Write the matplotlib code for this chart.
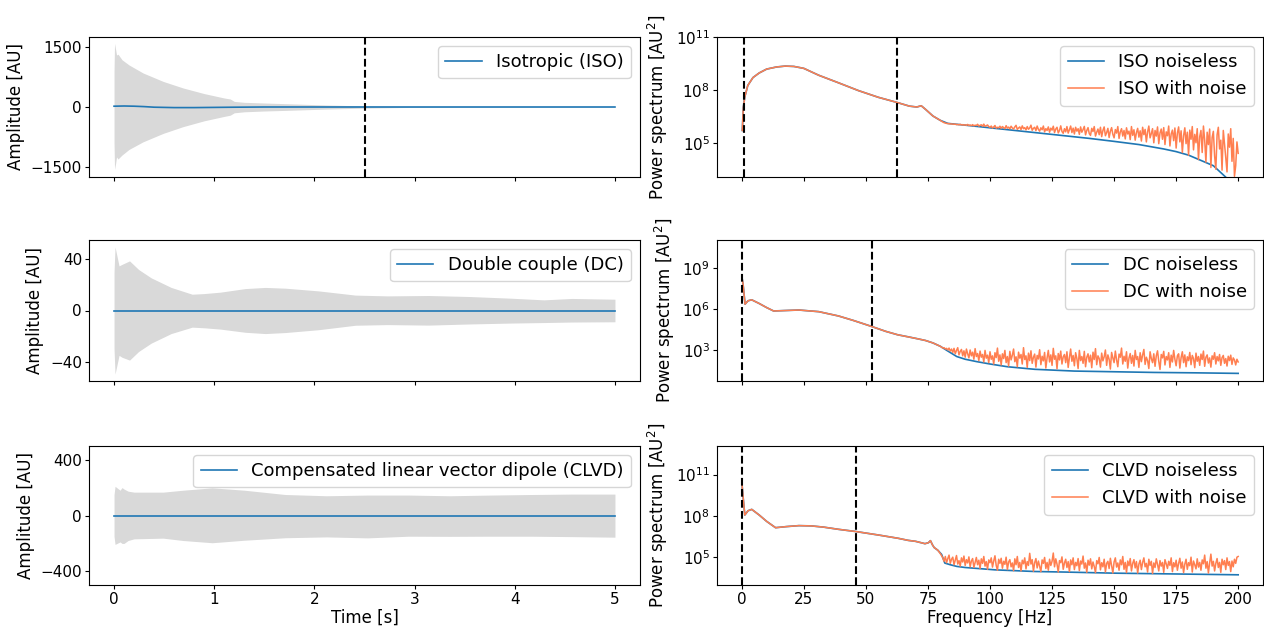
import numpy as np
import matplotlib
matplotlib.use("Agg")
import matplotlib.pyplot as plt
from matplotlib.ticker import FixedLocator, NullLocator, LogFormatterMathtext

# ---- time domain: envelope of the noisy trace (grey) and the clean trace (blue)
iso_t = [0.0, 0.005, 0.015, 0.025, 0.04, 0.08, 0.15, 0.29, 0.49, 0.69, 0.9, 1.1, 1.16, 1.2,
         1.3, 1.5, 1.71, 2.12, 2.53, 2.94, 3.5, 4.0, 5.0]
iso_upper = [900, 1590, 1450, 1300, 1320, 1180, 1050, 850, 640, 475, 335, 225, 200, 140,
             117, 100, 83, 50, 25, 10, 6, 5, 4]
iso_lower = [-900, -1560, -1420, -1250, -1300, -1200, -1060, -870, -660, -490, -345, -235, -205, -145,
             -120, -100, -85, -52, -26, -11, -6, -5, -4]
iso_clean_t = [0, 0.1, 0.2, 0.3, 0.4, 0.6, 0.8, 1.0, 1.2, 1.5, 2, 3, 4, 5]
iso_clean = [20, 25, 20, 10, -5, -15, -15, -10, -5, 0, 0, 0, 0, 0]

dc_t = [0.0, 0.01, 0.05, 0.08, 0.155, 0.245, 0.37, 0.57, 0.78, 0.9, 1.06, 1.31, 1.51, 1.71,
        2.04, 2.41, 2.73, 3.14, 3.55, 3.96, 4.29, 4.57, 5.0]
dc_upper = [30, 49.6, 34.8, 36, 38.7, 32, 25.5, 18, 12.7, 13.2, 14.3, 17.1, 18, 17.4,
            15.3, 12, 11.4, 11.7, 10.9, 9.6, 8.3, 9.4, 8.8]
dc_lower = [-30, -49.6, -35, -36.5, -38.7, -32, -25.5, -18, -13, -13.5, -14.5, -17, -18, -17.2,
            -15, -11.5, -11, -11.4, -10.5, -9.8, -9.4, -9.0, -8.8]
dc_clean_t = [0, 1, 2, 3, 4, 5]
dc_clean = [0, 0, 0, 0, 0, 0]

clvd_t = [0.0, 0.01, 0.06, 0.08, 0.1, 0.14, 0.2, 0.49, 0.69, 0.98, 1.3, 1.71, 2.12, 2.53,
          2.94, 3.35, 3.76, 4.16, 4.57, 5.0]
clvd_upper = [150, 210, 182, 201, 190, 175, 168, 168, 182, 199, 182, 151, 142, 147,
              147, 142, 147, 151, 154, 154]
clvd_lower = [-150, -208, -190, -201, -201, -180, -168, -163, -180, -196, -178, -160, -154, -161,
              -149, -150, -149, -149, -152, -156]
clvd_clean_t = [0, 1, 2, 3, 4, 5]
clvd_clean = [0, 0, 0, 0, 0, 0]

# ---- power spectra, log10 values
iso_f = [0.2, 0.6, 1.2, 2.4, 4.5, 7, 10, 14, 17.5, 21, 25, 31, 39, 47, 55, 62.5, 67.5, 70.5,
         72.3, 74, 77, 80, 83, 90, 100, 110, 120, 130, 140, 150, 160, 170, 175, 180, 185, 190,
         195, 200]
iso_log = [5.7, 7.0, 7.6, 8.25, 8.7, 8.96, 9.18, 9.3, 9.35, 9.33, 9.22, 8.83, 8.4, 7.96, 7.58,
           7.29, 7.08, 7.03, 7.1, 6.9, 6.52, 6.27, 6.1, 6.0, 5.85, 5.7, 5.55, 5.4, 5.25, 5.08,
           4.9, 4.65, 4.5, 4.3, 4.0, 3.7, 3.05, 2.3]
# noisy part, 80 Hz to 200 Hz every 0.5 Hz
iso_noisy_log = [
    6.27, 6.22, 6.18, 6.14, 6.12, 6.10, 6.09, 6.08, 6.07, 6.07,
    6.06, 6.05, 6.06, 6.03, 6.04, 6.02, 6.05, 6.01, 6.03, 6.00,
    6.02, 5.99, 6.04, 5.98, 6.01, 5.97, 6.03, 5.96, 6.00, 5.98,
    6.05, 5.95, 5.99, 6.02, 5.94, 6.06, 5.93, 5.97, 6.01, 5.92,
    5.88, 5.95, 5.84, 5.90, 5.98, 5.83, 5.88, 5.85, 5.94, 5.82,
    5.92, 5.86, 5.80, 5.97, 5.83, 5.89, 5.79, 5.94, 5.84, 5.78,
    5.90, 5.99, 5.76, 5.84, 5.90, 5.75, 5.96, 5.80, 5.86, 5.73,
    5.92, 5.77, 5.84, 6.00, 5.71, 5.82, 5.88, 5.69, 5.95, 5.76,
    5.66, 5.85, 5.74, 5.95, 5.62, 5.80, 5.70, 5.90, 5.60, 5.83,
    5.72, 5.94, 5.58, 5.78, 5.88, 5.56, 5.70, 5.96, 5.64, 5.54,
    5.80, 5.62, 5.92, 5.55, 5.74, 5.95, 5.58, 5.83, 5.50, 5.88,
    5.66, 5.80, 5.48, 5.90, 5.60, 5.75, 5.93, 5.45, 5.70, 5.86,
    5.52, 5.42, 5.82, 5.64, 5.92, 5.38, 5.60, 5.78, 5.46, 5.88,
    5.35, 5.70, 5.90, 5.40, 5.58, 5.82, 5.30, 5.66, 5.86, 5.48,
    5.28, 5.75, 5.55, 5.92, 5.25, 5.62, 5.80, 5.38, 5.70, 5.22,
    5.85, 5.50, 5.66, 5.18, 5.92, 5.42, 5.74, 5.15, 5.58, 5.82,
    5.32, 5.68, 5.10, 5.88, 5.46, 5.76, 5.05, 5.62, 5.95, 5.28,
    5.52, 5.80, 5.00, 5.70, 5.38, 5.90, 4.95, 5.56, 5.78, 5.20,
    5.86, 4.90, 5.62, 5.40, 5.95, 4.82, 5.50, 5.72, 5.12, 5.84,
    4.70, 5.55, 5.90, 5.05, 5.68, 4.45, 5.40, 5.85, 4.95, 5.60,
    4.30, 5.72, 5.20, 5.92, 4.60, 5.48, 5.00, 5.80, 4.05, 5.35,
    5.70, 4.45, 5.95, 5.15, 3.90, 5.60, 4.90, 5.78, 3.60, 5.30,
    5.65, 4.25, 3.50, 5.45, 5.88, 4.65, 5.15, 3.45, 5.70, 4.95,
    4.15, 3.35, 5.50, 4.75, 5.80, 3.95, 5.25, 3.10, 3.70, 5.05,
    4.40]

dc_f = [0.05, 0.5, 1.3, 2.5, 4, 7, 10, 12.8, 17, 23, 31, 39, 45, 52, 58, 62.8, 67, 70.7, 74,
        77, 80, 82.6, 86.6, 90, 94.5, 100, 107, 118, 134, 150, 166, 183, 200]
dc_log = [8.33, 7.83, 6.35, 6.6, 6.67, 6.4, 6.1, 5.85, 5.88, 5.92, 5.8, 5.48, 5.15, 4.73, 4.35,
          4.1, 3.95, 3.81, 3.68, 3.5, 3.25, 2.95, 2.5, 2.3, 2.13, 1.95, 1.75, 1.56, 1.43, 1.38,
          1.33, 1.3, 1.26]
dc_noisy_log = [
    3.25, 3.18, 3.12, 3.15, 3.05, 3.10, 2.98, 3.12, 2.90, 3.05,
    2.80, 3.10, 2.70, 2.95, 3.15, 2.62, 2.88, 3.02, 2.55, 2.92,
    2.45, 3.05, 2.70, 2.40, 2.98, 2.55, 2.82, 2.30, 3.08, 2.50,
    2.72, 2.20, 2.90, 2.45, 2.65, 2.10, 2.95, 2.38, 2.60, 2.05,
    2.85, 2.30, 2.55, 1.95, 2.78, 2.42, 3.12, 2.15, 2.62, 1.88,
    2.70, 2.35, 2.95, 2.05, 2.50, 1.80, 2.88, 2.25, 2.60, 3.05,
    2.12, 2.48, 1.75, 2.82, 2.38, 2.65, 1.95, 3.15, 2.28, 2.55,
    1.70, 2.75, 2.20, 2.92, 2.00, 2.45, 2.68, 1.72, 2.58, 2.32,
    3.00, 1.90, 2.52, 2.18, 2.80, 1.65, 2.40, 2.95, 2.10, 2.62,
    1.85, 3.10, 2.30, 2.55, 1.60, 2.72, 2.25, 2.90, 1.95, 2.48,
    2.65, 2.05, 2.85, 1.70, 2.42, 3.05, 2.15, 2.58, 1.82, 2.78,
    2.35, 1.62, 2.95, 2.20, 2.50, 2.00, 2.88, 1.75, 2.45, 2.70,
    2.10, 2.60, 1.68, 2.82, 2.28, 3.08, 1.90, 2.55, 2.35, 1.72,
    2.75, 2.18, 2.48, 2.98, 1.85, 2.62, 2.30, 1.58, 2.80, 2.40,
    2.05, 2.90, 2.25, 1.75, 2.68, 2.45, 3.12, 1.95, 2.52, 2.15,
    2.85, 1.65, 2.38, 2.72, 2.00, 2.58, 1.80, 2.95, 2.28, 2.50,
    1.70, 2.78, 2.12, 2.62, 3.02, 1.92, 2.45, 2.20, 1.62, 2.85,
    2.35, 2.05, 2.70, 1.78, 2.55, 2.92, 2.15, 1.55, 2.65, 2.40,
    2.88, 1.88, 2.50, 2.25, 2.78, 1.70, 2.60, 2.10, 2.95, 2.30,
    1.82, 2.55, 2.70, 1.65, 2.42, 2.85, 2.05, 2.62, 1.75, 2.48,
    2.20, 2.80, 1.90, 2.58, 2.35, 1.68, 2.75, 2.15, 2.50, 1.85,
    2.68, 2.28, 2.90, 1.78, 2.45, 2.62, 2.02, 2.40, 1.72, 2.55,
    2.30, 2.78, 1.95, 2.50, 2.18, 2.65, 1.85, 2.42, 2.58, 2.00,
    2.35, 1.80, 2.52, 2.20, 2.60, 1.92, 2.40, 2.25, 1.88, 2.30,
    2.10]

clvd_f = [0.05, 0.5, 1.2, 2.5, 4, 7, 10, 13.6, 18, 23, 28, 33, 39, 46, 55, 63, 67, 70, 73.8,
          75.2, 76, 76.8, 77.5, 79, 80.5, 81.8, 84, 86.6, 90, 95, 102, 110, 118, 130, 150, 175,
          200]
clvd_log = [10.35, 9.4, 8.06, 8.37, 8.47, 8.06, 7.6, 7.14, 7.22, 7.29, 7.27, 7.18, 7.02, 6.86,
            6.61, 6.37, 6.22, 6.15, 5.98, 6.05, 6.2, 5.9, 5.7, 5.5, 5.2, 4.57, 4.45, 4.33, 4.25,
            4.18, 4.08, 4.02, 3.96, 3.92, 3.84, 3.78, 3.72]
clvd_noisy_log = [
    5.25, 5.10, 4.95, 4.70, 5.05, 4.60, 4.90, 5.15, 4.55, 4.85,
    5.00, 4.45, 4.80, 5.12, 4.50, 4.75, 4.35, 4.95, 4.65, 5.08,
    4.40, 4.82, 4.58, 5.02, 4.30, 4.72, 4.90, 4.25, 4.62, 4.98,
    4.45, 4.78, 4.18, 4.88, 4.55, 5.05, 4.35, 4.68, 4.12, 4.80,
    4.60, 4.95, 4.28, 4.72, 5.10, 4.40, 4.05, 4.85, 4.55, 4.92,
    4.20, 4.70, 4.48, 5.00, 4.10, 4.65, 4.82, 4.30, 4.58, 4.02,
    4.88, 4.45, 5.05, 4.25, 4.62, 4.00, 4.78, 4.52, 4.95, 4.15,
    4.68, 4.40, 5.28, 4.50, 4.82, 3.98, 4.60, 4.90, 4.22, 4.72,
    4.35, 3.95, 4.80, 4.55, 4.98, 4.18, 4.62, 4.05, 4.85, 4.40,
    4.70, 5.30, 4.30, 4.88, 4.50, 3.92, 4.75, 4.60, 5.02, 4.12,
    4.58, 4.85, 4.25, 4.68, 3.95, 4.80, 4.45, 4.95, 4.10, 4.62,
    4.38, 4.90, 4.02, 4.72, 4.50, 5.08, 4.20, 4.58, 3.90, 4.78,
    4.42, 4.88, 4.15, 4.65, 4.32, 3.88, 4.75, 4.52, 4.98, 4.08,
    4.60, 4.30, 4.85, 3.92, 4.55, 4.70, 4.18, 4.92, 4.40, 3.85,
    4.65, 4.95, 4.28, 4.58, 4.05, 4.80, 4.45, 5.05, 4.12, 4.62,
    3.88, 4.72, 4.38, 4.90, 4.00, 4.55, 4.82, 4.22, 4.68, 3.85,
    4.50, 4.78, 4.10, 4.62, 4.95, 4.30, 4.55, 3.92, 4.85, 4.40,
    4.70, 3.82, 4.58, 4.25, 4.88, 4.48, 4.00, 4.75, 4.35, 4.62,
    3.90, 4.82, 4.52, 4.18, 4.70, 4.40, 4.95, 3.95, 4.60, 4.30,
    4.78, 4.05, 4.55, 4.92, 4.20, 4.65, 3.88, 4.50, 4.85, 4.12,
    4.60, 4.38, 5.00, 3.92, 4.72, 4.45, 4.15, 4.88, 4.28, 4.62,
    4.05, 4.80, 4.52, 5.15, 4.20, 4.68, 3.85, 4.58, 5.22, 4.35,
    4.70, 4.00, 4.55, 4.90, 4.25, 4.62, 3.90, 4.85, 4.45, 4.75,
    4.10, 4.95, 4.40, 4.68, 3.95, 4.72, 4.30, 4.85, 4.55, 5.00,
    5.05]

noisy_f = np.arange(80, 200.25, 0.5)

time_panels = [
    ("Isotropic (ISO)", iso_t, iso_upper, iso_lower, iso_clean_t, iso_clean, (-1750, 1750),
     [-1500, 0, 1500], [2.5]),
    ("Double couple (DC)", dc_t, dc_upper, dc_lower, dc_clean_t, dc_clean, (-55, 55),
     [-40, 0, 40], []),
    ("Compensated linear vector dipole (CLVD)", clvd_t, clvd_upper, clvd_lower, clvd_clean_t,
     clvd_clean, (-500, 500), [-400, 0, 400], []),
]

spec_panels = [
    ("ISO", iso_f, iso_log, iso_noisy_log, (10**3.06, 1e11), [1e5, 1e8, 1e11], [0.8, 62.4]),
    ("DC", dc_f, dc_log, dc_noisy_log, (10**0.7, 10**11.07), [1e3, 1e6, 1e9], [0.0, 52.3]),
    ("CLVD", clvd_f, clvd_log, clvd_noisy_log, (10**2.98, 10**13.07), [1e5, 1e8, 1e11], [0.0, 45.9]),
]

W, H = 1264, 627
fig = plt.figure(figsize=(W / 100, H / 100), dpi=100)

rows = [(37, 177), (240, 381), (446, 585)]
left_x = (89, 640)
right_x = (717, 1263)

def rect(xs, ys):
    return [xs[0] / W, 1 - ys[1] / H, (xs[1] - xs[0]) / W, (ys[1] - ys[0]) / H]

LABEL = 12
LEGEND = 13
TICK = 11
blue = "#1f77b4"
orange = "coral"

def style_ticks(ax):
    ax.tick_params(labelsize=TICK, length=3.2, pad=1.8)

for i, (name, t, up, lo, ct, cv, ylim, yt, vlines) in enumerate(time_panels):
    ax = fig.add_axes(rect(left_x, rows[i]))
    ax.fill_between(t, lo, up, color="#d9d9d9", linewidth=0)
    ax.plot(ct, cv, color=blue, lw=1.2, label=name)
    for v in vlines:
        ax.axvline(v, color="k", ls="--", lw=1.5)
    ax.set_xlim(-0.25, 5.25)
    ax.set_ylim(*ylim)
    ax.set_yticks(yt)
    ax.set_xticks([0, 1, 2, 3, 4, 5])
    ax.set_ylabel("Amplitude [AU]", fontsize=LABEL)
    style_ticks(ax)
    if i < 2:
        ax.tick_params(labelbottom=False)
    else:
        ax.set_xlabel("Time [s]", fontsize=LABEL, labelpad=1.5)
    ax.legend(loc="upper right", fontsize=LEGEND)

for i, (name, f, lg, nlg, ylim, yt, vlines) in enumerate(spec_panels):
    ax = fig.add_axes(rect(right_x, rows[i]))
    f = np.array(f)
    lg = np.array(lg)
    low = f < 80
    noisy_x = np.concatenate([f[low], noisy_f])
    noisy_y = np.concatenate([lg[low], nlg])
    ax.semilogy(f, 10 ** lg, color=blue, lw=1.2, label=f"{name} noiseless")
    ax.semilogy(noisy_x, 10 ** noisy_y, color=orange, lw=1.1, label=f"{name} with noise")
    for v in vlines:
        ax.axvline(v, color="k", ls="--", lw=1.5)
    ax.set_xlim(-10, 210)
    ax.set_ylim(*ylim)
    ax.yaxis.set_major_locator(FixedLocator(yt))
    ax.yaxis.set_major_formatter(LogFormatterMathtext())
    ax.yaxis.set_minor_locator(NullLocator())
    ax.set_xticks([0, 25, 50, 75, 100, 125, 150, 175, 200])
    ax.set_ylabel("Power spectrum [AU$^2$]", fontsize=LABEL)
    style_ticks(ax)
    if i < 2:
        ax.tick_params(labelbottom=False)
    else:
        ax.set_xlabel("Frequency [Hz]", fontsize=LABEL, labelpad=1.5)
    ax.legend(loc="upper right", fontsize=LEGEND)

fig.savefig("out.png", dpi=100)
